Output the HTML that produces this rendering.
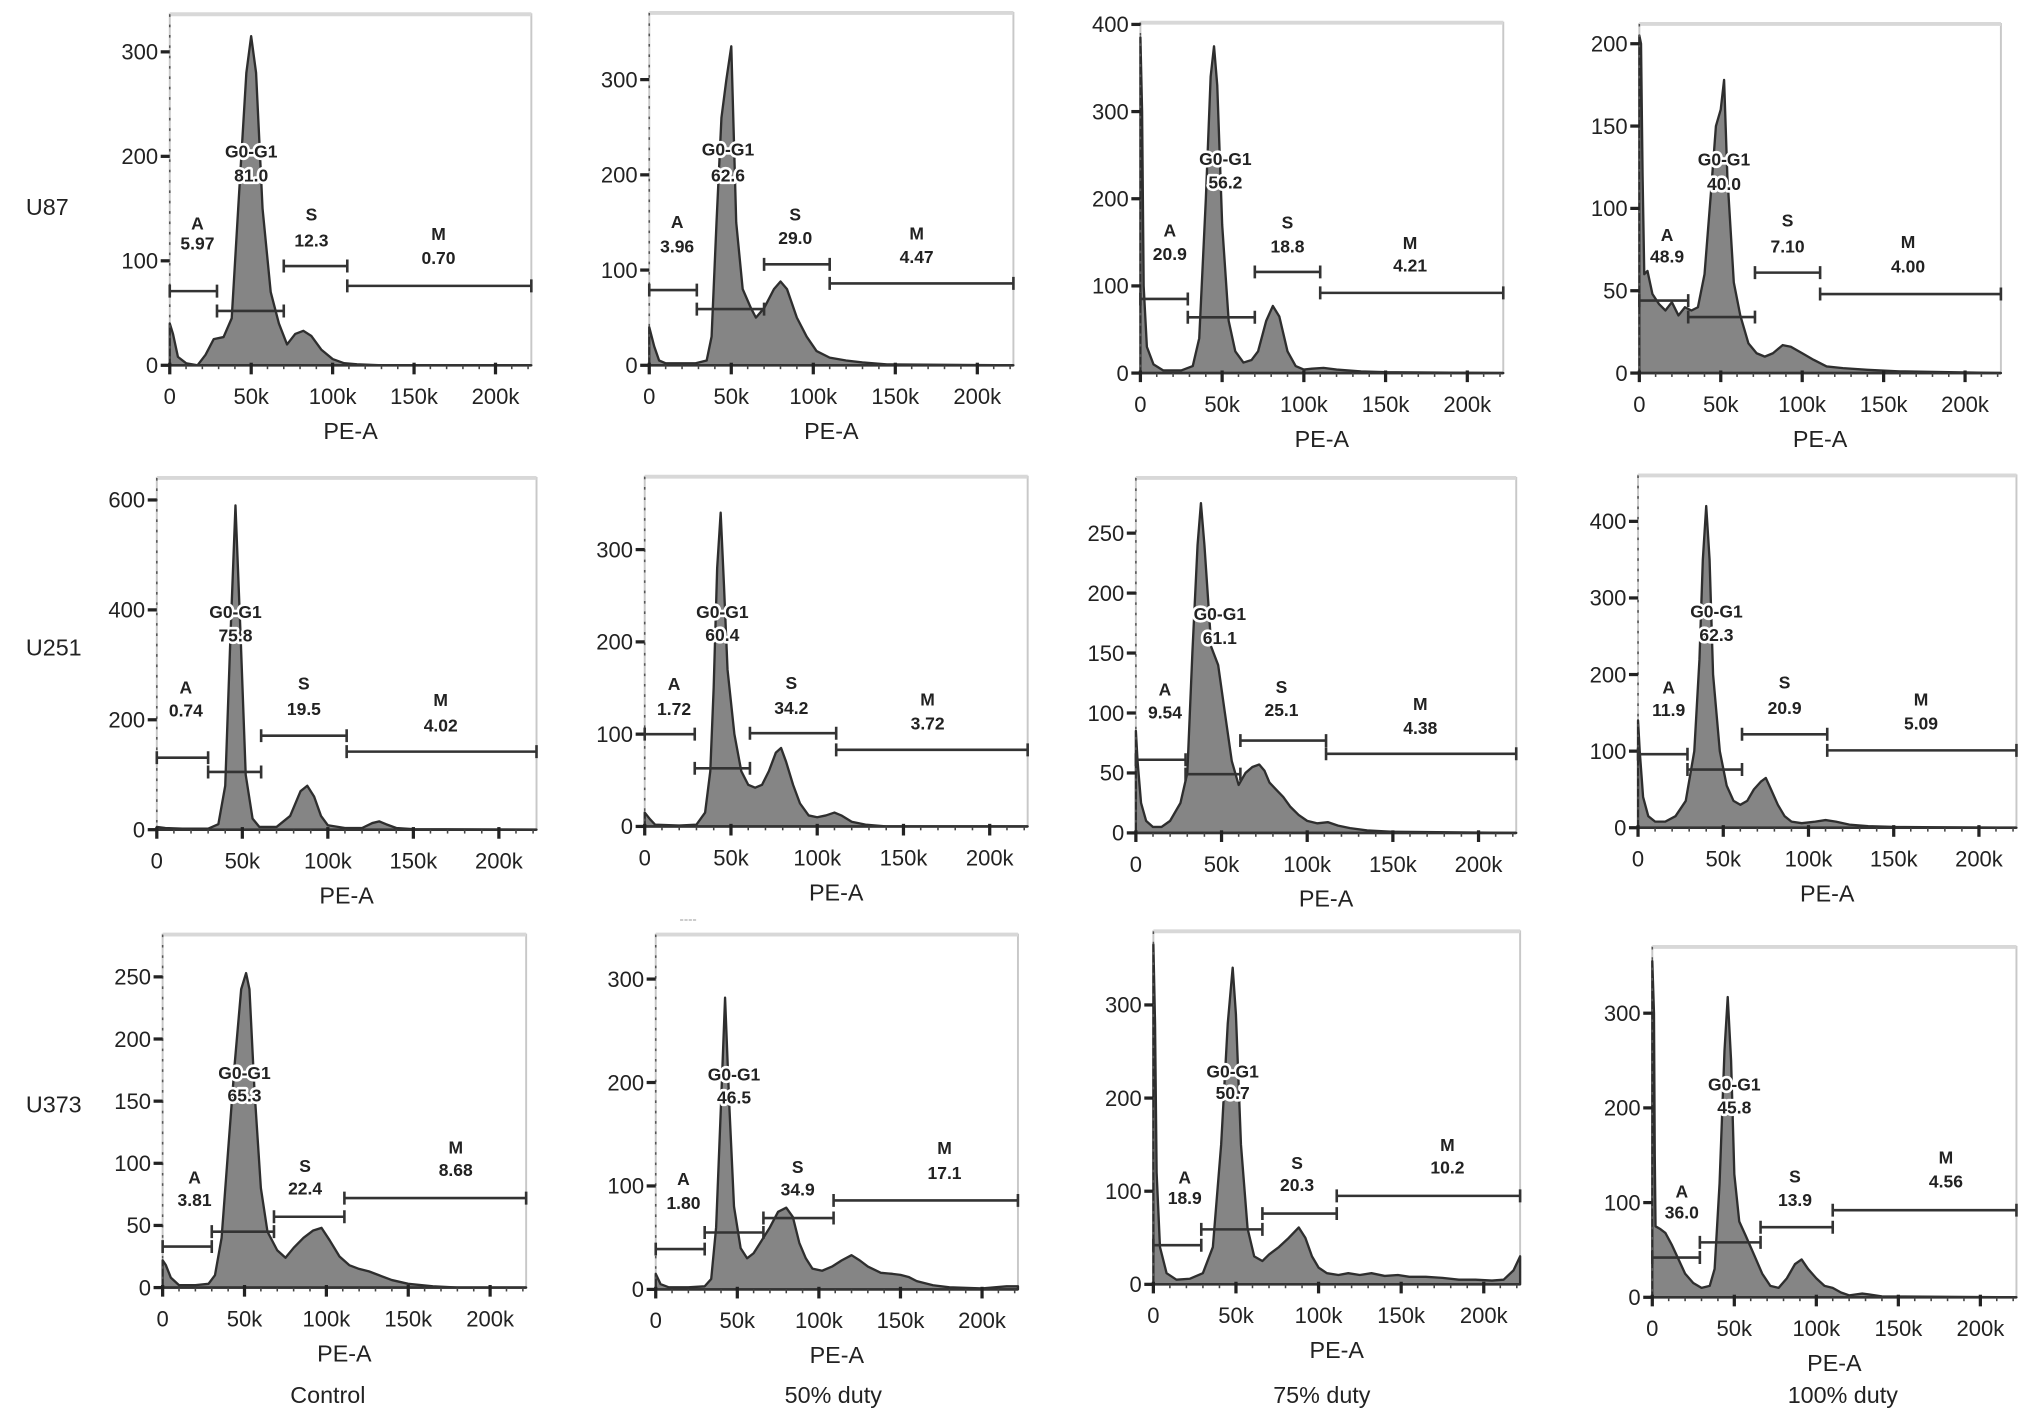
<!DOCTYPE html>
<html><head><meta charset="utf-8">
<style>
html,body{margin:0;padding:0;background:#fff;}
svg{display:block;}
text{font-family:"Liberation Sans",sans-serif;}
.tk{font-size:17px;fill:#222;}
.ax{font-size:18px;fill:#222;}
.gl{font-size:13.5px;font-weight:bold;fill:#222;stroke:#fff;stroke-width:4px;paint-order:stroke;stroke-linejoin:round;}
</style></head>
<body>
<svg id="fig" xmlns="http://www.w3.org/2000/svg" width="2032" height="1421" viewBox="0 0 1568 1097" preserveAspectRatio="none">
<text class="ax" x="20" y="166">U87</text>
<text class="ax" x="20" y="506">U251</text>
<text class="ax" x="20" y="859">U373</text>
<text class="ax" x="253" y="1083" text-anchor="middle">Control</text>
<text class="ax" x="643" y="1083" text-anchor="middle">50% duty</text>
<text class="ax" x="1020" y="1083" text-anchor="middle">75% duty</text>
<text class="ax" x="1422" y="1083" text-anchor="middle">100% duty</text>
<text x="531" y="713" font-size="10" fill="#999" text-anchor="middle">----</text>
</svg>
<script>
// ---- data: histograms [PE-A (k), count] ----
const histU87Control=[[0,40],[2,30],[5,8],[10,2],[17,0],[22,10],[27,25],[33,27],[38,45],[42,150],[47,280],[50,315],[53,280],[57,150],[62,70],[67,40],[72,20],[77,30],[82,33],[87,28],[93,15],[100,6],[107,2],[115,1],[130,0],[222,0]];
const histU87Duty50=[[0,40],[3,20],[6,5],[10,2],[28,2],[35,5],[38,30],[41,150],[44,260],[47,300],[50,335],[53,150],[57,80],[62,60],[65,50],[70,60],[76,80],[80,88],[84,80],[90,50],[96,30],[102,15],[110,8],[120,5],[130,3],[145,1],[222,0]];
const histU87Duty75=[[0,385],[1,300],[2,100],[4,30],[8,10],[14,3],[25,3],[32,8],[36,40],[40,200],[43,340],[45,375],[47,330],[50,170],[54,60],[58,25],[63,12],[68,15],[72,25],[77,60],[81,77],[85,65],[90,25],[95,8],[100,4],[105,5],[112,6],[120,4],[135,2],[150,1],[222,0]];
const histU87Duty100=[[0,205],[1,200],[2,120],[3,60],[5,62],[8,48],[12,42],[16,38],[20,43],[24,35],[28,40],[32,38],[36,40],[40,60],[44,110],[47,150],[50,160],[52,178],[54,120],[58,55],[62,35],[67,18],[72,12],[77,10],[82,12],[88,17],[93,16],[100,12],[107,8],[115,4],[125,3],[140,2],[160,1],[222,0]];
const histU251Control=[[0,5],[5,3],[15,2],[30,2],[36,10],[40,80],[43,350],[46,590],[49,350],[52,100],[56,20],[60,5],[70,5],[78,25],[84,70],[88,80],[92,60],[96,25],[100,8],[110,3],[120,3],[126,12],[130,15],[134,10],[140,3],[150,1],[222,0]];
const histU251Duty50=[[0,15],[3,8],[6,2],[20,1],[30,2],[35,15],[38,60],[40,150],[42,280],[44,340],[46,260],[48,170],[52,100],[56,60],[60,45],[64,42],[68,45],[72,60],[76,80],[79,85],[82,70],[86,45],[90,25],[95,12],[100,10],[105,12],[110,15],[114,12],[120,5],[128,2],[140,0],[222,0]];
const histU251Duty75=[[0,85],[1,60],[3,25],[6,10],[10,5],[15,5],[20,10],[26,25],[30,50],[33,150],[36,240],[38,275],[40,240],[44,155],[48,140],[52,100],[56,60],[60,40],[64,50],[68,55],[72,57],[75,52],[78,42],[82,36],[86,30],[90,22],[95,15],[100,10],[106,8],[112,9],[118,6],[125,4],[135,2],[150,1],[222,0]];
const histU251Duty100=[[0,140],[1,100],[3,40],[6,15],[10,8],[16,8],[22,15],[28,35],[33,100],[36,220],[38,350],[40,420],[42,350],[44,200],[48,100],[52,55],[56,35],[60,30],[64,35],[68,50],[72,60],[75,65],[78,50],[82,30],[86,15],[90,8],[96,6],[104,8],[110,10],[116,8],[124,4],[135,2],[150,1],[222,0]];
const histU373Control=[[0,22],[2,18],[5,8],[10,2],[20,2],[28,3],[32,10],[36,40],[40,110],[44,180],[48,240],[51,253],[53,240],[56,160],[60,80],[64,45],[70,30],[75,24],[80,32],[86,40],[92,46],[97,48],[102,38],[108,25],[114,18],[120,15],[126,13],[132,10],[140,6],[150,3],[165,1],[180,0],[222,0]];
const histU373Duty50=[[0,15],[3,5],[8,2],[20,2],[30,3],[34,10],[37,60],[40,180],[42.5,282],[45,180],[48,80],[52,40],[56,30],[60,35],[64,45],[70,60],[75,75],[80,79],[84,70],[88,45],[92,30],[96,20],[102,18],[108,22],[114,28],[120,33],[125,28],[130,22],[138,16],[145,15],[150,14],[155,12],[160,8],[170,4],[180,2],[200,1],[215,3],[222,3]];
const histU373Duty75=[[0,365],[1,280],[2,120],[4,40],[8,12],[14,5],[22,6],[30,12],[36,40],[41,150],[45,280],[48,340],[50,290],[53,150],[57,60],[61,30],[66,25],[70,32],[76,40],[82,50],[88,61],[92,50],[96,30],[100,18],[105,12],[112,10],[118,12],[125,10],[132,12],[140,9],[148,10],[155,8],[165,8],[175,7],[185,5],[195,5],[205,4],[212,5],[218,15],[222,30]];
const histU373Duty100=[[0,355],[1,300],[1.5,150],[2,75],[5,72],[8,68],[12,55],[16,40],[20,25],[25,15],[30,10],[35,12],[38,30],[41,120],[44,260],[46,317],[48,250],[50,130],[53,80],[57,65],[62,45],[67,25],[72,12],[77,10],[82,20],[87,35],[91,40],[95,30],[100,20],[105,12],[110,10],[115,5],[120,2],[128,4],[132,3],[140,1],[222,0]];

// ---- gate percentages (A, G0-G1, S, M) ----
const pctU87=[["5.97","81.0","12.3","0.70"],["3.96","62.6","29.0","4.47"],["20.9","56.2","18.8","4.21"],["48.9","40.0","7.10","4.00"]];
const pctU251=[["0.74","75.8","19.5","4.02"],["1.72","60.4","34.2","3.72"],["9.54","61.1","25.1","4.38"],["11.9","62.3","20.9","5.09"]];
const pctU373=[["3.81","65.3","22.4","8.68"],["1.80","46.5","34.9","17.1"],["18.9","50.7","20.3","10.2"],["36.0","45.8","13.9","4.56"]];
const gateNames=["A","G0-G1","S","M"];

// gate bars: [startK, endK, countLevel]; labels: [k, nameCount, valueCount]
const gatesU87Control=[[0,29,71],[29,70,52],[70,109,95],[109,222,76]];
const gatesU87Duty50=[[0,29,79],[29,70,59],[70,110,106],[110,222,86]];
const gatesU87Duty75=[[0,29,85],[29,70,64],[70,110,116],[110,222,92]];
const gatesU87Duty100=[[0,30,44],[30,71,34],[71,111,61],[111,222,48]];
const gatesU251Control=[[0,30,131],[30,61,105],[61,111,171],[111,222,142]];
const gatesU251Duty50=[[0,29,100],[29,61,63],[61,111,101],[111,222,83]];
const gatesU251Duty75=[[0,29,61],[29,61,49],[61,111,77],[111,222,66]];
const gatesU251Duty100=[[0,29,96],[29,61,76],[61,111,122],[111,222,101]];
const gatesU373Control=[[0,30,33],[30,68,45],[68,111,57],[111,222,72]];
const gatesU373Duty50=[[0,30,39],[30,66,55],[66,109,69],[109,222,86]];
const gatesU373Duty75=[[0,29,42],[29,66,59],[66,111,76],[111,222,95]];
const gatesU373Duty100=[[0,29,42],[29,66,58],[66,110,74],[110,222,92]];

const labelsU87Control=[[17,136,117],[50,205,182],[87,145,120],[165,126,103]];
const labelsU87Duty50=[[17,151,125],[48,227,200],[89,159,134],[163,139,114]];
const labelsU87Duty75=[[18,164,137],[52,246,219],[90,173,146],[165,150,124]];
const labelsU87Duty100=[[17,84,71],[52,130,115],[91,93,77],[165,80,65]];
const labelsU251Control=[[17,260,218],[46,397,354],[86,267,220],[166,237,190]];
const labelsU251Duty50=[[17,155,128],[45,233,208],[85,156,129],[164,138,112]];
const labelsU251Duty75=[[17,120,101],[49,183,163],[85,122,103],[166,108,88]];
const labelsU251Duty100=[[18,184,154],[46,283,252],[86,190,157],[166,168,137]];
const labelsU373Control=[[19.5,89,71],[50,173,155],[87,98,80],[179,113,95]];
const labelsU373Duty50=[[17,107,84],[48,208,186],[87,119,97],[177,137,113]];
const labelsU373Duty75=[[19,115,93],[48,229,206],[87,131,107],[178,150,126]];
const labelsU373Duty100=[[18,112,90],[50,225,201],[87,128,103],[179,148,123]];

// ---- tick labels ----
const xTicks=[0,50,100,150,200];
const xTickLabels=["0","50k","100k","150k","200k"];
const yTicksU87=[[0,100,200,300],[0,100,200,300],[0,100,200,300,400],[0,50,100,150,200]];
const yTicksU251=[[0,200,400,600],[0,100,200,300],[0,50,100,150,200,250],[0,100,200,300,400]];
const yTicksU373=[[0,50,100,150,200,250],[0,100,200,300],[0,100,200,300],[0,100,200,300]];
const yMaxU87=[336,370,402,212];
const yMaxU251=[640,379,296,460];
const yMaxU373=[284,343,379,370];
const xMaxK=222;

// ---- layout (pixels, viewBox units) ----
const layout=[
 {l:131,r:410,t:11,b:282},{l:501,r:782,t:10,b:282},{l:880,r:1160,t:17.5,b:288},{l:1265,r:1544,t:18.5,b:288},
 {l:121,r:414,t:369,b:640.5},{l:497.5,r:793,t:368,b:638},{l:876.5,r:1170,t:369,b:643},{l:1264,r:1556,t:367,b:639},
 {l:125.5,r:406,t:721.5,b:994},{l:506,r:785.5,t:721.5,b:995.4},{l:890,r:1173,t:719,b:991.5},{l:1275,r:1556,t:731,b:1001.5}
];
const hists=[histU87Control,histU87Duty50,histU87Duty75,histU87Duty100,histU251Control,histU251Duty50,histU251Duty75,histU251Duty100,histU373Control,histU373Duty50,histU373Duty75,histU373Duty100];
const gates=[gatesU87Control,gatesU87Duty50,gatesU87Duty75,gatesU87Duty100,gatesU251Control,gatesU251Duty50,gatesU251Duty75,gatesU251Duty100,gatesU373Control,gatesU373Duty50,gatesU373Duty75,gatesU373Duty100];
const labels=[labelsU87Control,labelsU87Duty50,labelsU87Duty75,labelsU87Duty100,labelsU251Control,labelsU251Duty50,labelsU251Duty75,labelsU251Duty100,labelsU373Control,labelsU373Duty50,labelsU373Duty75,labelsU373Duty100];
const pcts=pctU87.concat(pctU251,pctU373);
const yTicks=yTicksU87.concat(yTicksU251,yTicksU373);
const yMaxs=yMaxU87.concat(yMaxU251,yMaxU373);
const rowNames=["u87","u251","u373"], colNames=["control","duty50","duty75","duty100"];

const NS="http://www.w3.org/2000/svg";
const svg=document.getElementById('fig');
function mk(tag,attrs,parent){const e=document.createElementNS(NS,tag);for(const k in attrs)e.setAttribute(k,attrs[k]);(parent||svg).appendChild(e);return e;}

for(let i=0;i<12;i++){
  const L=layout[i], ymax=yMaxs[i], id=rowNames[Math.floor(i/4)]+'-'+colNames[i%4];
  const xs=k=>L.l+(k/xMaxK)*(L.r-L.l);
  const ys=c=>L.b-(c/ymax)*(L.b-L.t);
  const g=mk('g',{});
  
  
  const fr=mk('rect',{x:L.l,y:L.t,width:L.r-L.l,height:L.b-L.t,fill:'#fff',stroke:'#c8c8c8','stroke-width':1.5},g);
  
  
  const topb=mk('line',{x1:L.l,y1:L.t,x2:L.r,y2:L.t,stroke:'#d8d8d8','stroke-width':3},g);
  
  
  const h=hists[i];
  let d='M'+xs(h[0][0])+','+ys(0);
  h.forEach(p=>{d+=' L'+xs(p[0]).toFixed(1)+','+ys(Math.min(p[1],ymax)).toFixed(1);});
  d+=' L'+xs(h[h.length-1][0])+','+ys(0)+' Z';
  const hp=mk('path',{d:d,fill:'#858585',stroke:'#2e2e2e','stroke-width':1.8,'stroke-linejoin':'round'},g);
  
  
  const ya=mk('line',{x1:L.l,y1:L.t,x2:L.l,y2:L.b+4,stroke:'#555','stroke-width':1.2,'stroke-dasharray':'2,6'},g);
  
  
  const xa=mk('line',{x1:L.l,y1:L.b,x2:L.r,y2:L.b,stroke:'#333','stroke-width':2},g);
  
  
  for(let k=10;k<xMaxK;k+=10){
    const mt=mk('line',{x1:xs(k),y1:L.b,x2:xs(k),y2:L.b+3,stroke:'#444','stroke-width':1.2},g);
    
    
  }
  xTicks.forEach((k,j)=>{
    const x=xs(k);
    const tl=mk('line',{x1:x,y1:L.b-2,x2:x,y2:L.b+7,stroke:'#222','stroke-width':2.5},g);
    
    
    const t=mk('text',{x:x,y:L.b+30,class:'tk','text-anchor':'middle'},g);
    t.textContent=xTickLabels[j];
    
    
  });
  yTicks[i].forEach(v=>{
    const y=ys(v);
    const tl=mk('line',{x1:L.l-7,y1:y,x2:L.l,y2:y,stroke:'#222','stroke-width':2.5},g);
    
    
    const t=mk('text',{x:L.l-9,y:y+6,class:'tk','text-anchor':'end'},g);
    t.textContent=String(v);
    
    
  });
  const xt=mk('text',{x:(L.l+L.r)/2,y:L.b+57,class:'ax','text-anchor':'middle'},g);
  xt.textContent='PE-A';
  
  
  gates[i].forEach((gt,j)=>{
    const x1=xs(gt[0]),x2=xs(gt[1]),y=ys(gt[2]);
    const gl=mk('path',{d:'M'+x1+','+y+' H'+x2+' M'+x1+','+(y-5)+' V'+(y+5)+' M'+x2+','+(y-5)+' V'+(y+5),stroke:'#333','stroke-width':2,fill:'none'},g);
    
    
  });
  labels[i].forEach((lb,j)=>{
    const x=xs(lb[0]);
    const t1=mk('text',{x:x,y:ys(lb[1])+5,class:'gl','text-anchor':'middle'},g);
    t1.textContent=gateNames[j];
    
    
    const t2=mk('text',{x:x,y:ys(lb[2])+5,class:'gl','text-anchor':'middle'},g);
    t2.textContent=pcts[i][j];
    
    
  });
}
</script>
</body></html>
